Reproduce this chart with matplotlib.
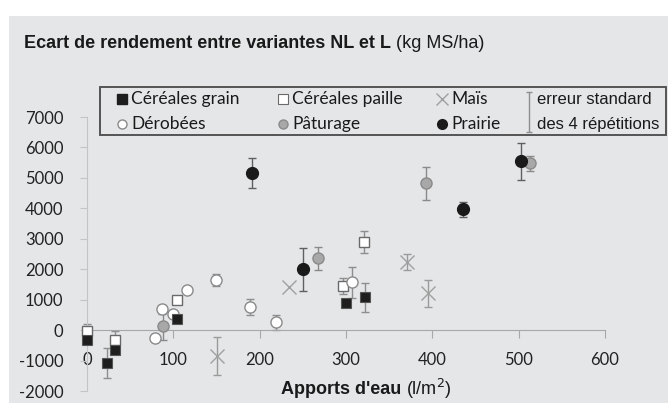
import matplotlib.pyplot as plt
from matplotlib.patches import Rectangle

plt.rcParams['axes.unicode_minus'] = False

# valeurs : apports d'eau (l/m2), écart (kg MS/ha), erreur standard
grain_x = [0, 23, 32, 104, 300, 322]
grain_y = [-330, -1080, -640, 360, 890, 1080]
grain_err = [0, 500, 0, 0, 0, 470]

paille_x = [0, 32, 104, 297, 321]
paille_y = [-40, -320, 980, 1450, 2890]
paille_err = [250, 280, 0, 250, 360]

mais_x = [151, 234, 371, 395]
mais_y = [-850, 1410, 2230, 1210]
mais_err = [610, 0, 260, 440]

derob_x = [79, 87, 100, 116, 149, 189, 219, 307]
derob_y = [-260, 690, 520, 1310, 1640, 750, 260, 1570]
derob_err = [0, 150, 0, 0, 200, 260, 250, 500]

patur_x = [88, 268, 393, 513]
patur_y = [120, 2360, 4820, 5480]
patur_err = [460, 370, 550, 250]

prairie_x = [191, 250, 436, 503]
prairie_y = [5150, 2000, 3970, 5540]
prairie_err = [490, 700, 250, 600]

x_ticks = [0, 100, 200, 300, 400, 500, 600]
y_ticks = [-2000, -1000, 0, 1000, 2000, 3000, 4000, 5000, 6000, 7000]

W, H = 668, 403
bg = '#e5e6e7'

fig = plt.figure(figsize=(W / 100, H / 100), dpi=100, facecolor='white')
fig.patches.append(Rectangle((8.5 / W, 0), 1, 1 - 16 / H, transform=fig.transFigure,
                             facecolor=bg, edgecolor='none', zorder=-10))

ax = fig.add_axes([87 / W, 1 - 391 / H, (605 - 87) / W, (391 - 117) / H])
ax.set_facecolor('none')
ax.set_xlim(0, 600)
ax.set_ylim(-2000, 7000)

for s in ['top', 'right']:
    ax.spines[s].set_visible(False)
ax.spines['left'].set_color('#c4c4c4')
ax.spines['bottom'].set_position(('data', 0))
ax.spines['bottom'].set_color('#a8a8a8')
ax.set_xticks(x_ticks)
ax.set_yticks(y_ticks)
ax.tick_params(axis='y', length=5, color='#c4c4c4', pad=12, labelsize=12, labelcolor='#222222')
ax.tick_params(axis='x', length=6, color='#a8a8a8', pad=10, labelsize=12, labelcolor='#222222')
for lab in ax.get_xticklabels() + ax.get_yticklabels():
    lab.set_family('Lato')


def err_bars(x, y, e, color):
    xs = [a for a, b in zip(x, e) if b > 0]
    ys = [a for a, b in zip(y, e) if b > 0]
    es = [b for b in e if b > 0]
    ax.errorbar(xs, ys, yerr=es, fmt='none', ecolor=color, elinewidth=1,
                capsize=3, capthick=1, zorder=2, clip_on=False)


err_bars(grain_x, grain_y, grain_err, '#8e8e8e')
err_bars(paille_x, paille_y, paille_err, '#8e8e8e')
err_bars(mais_x, mais_y, mais_err, '#9a9a9a')
err_bars(derob_x, derob_y, derob_err, '#8e8e8e')
err_bars(patur_x, patur_y, patur_err, '#8a8a8a')
err_bars(prairie_x, prairie_y, prairie_err, '#606060')

ax.plot(paille_x, paille_y, 's', ms=7.5, mfc='white', mec='#6a6a6a', mew=1, zorder=3, clip_on=False)
ax.plot(grain_x, grain_y, 's', ms=7.5, mfc='#1e1e1e', mec='#555555', mew=0.8, zorder=4, clip_on=False)
ax.plot(mais_x, mais_y, 'x', ms=10, mec='#a0a0a0', mew=1, zorder=3)
ax.plot(derob_x, derob_y, 'o', ms=8, mfc='white', mec='#8a8a8a', mew=1, zorder=3)
ax.plot(patur_x, patur_y, 'o', ms=8, mfc='#a8a8a8', mec='#8a8a8a', mew=1, zorder=3)
ax.plot(prairie_x, prairie_y, 'o', ms=8.5, mfc='#1a1a1a', mec='#1a1a1a', zorder=4)

# titre et titre d'axe (partie en gras + unité)
t = fig.text(24 / W, 1 - 43 / H, 'Ecart de rendement entre variantes NL et L ',
             family='Liberation Sans', weight='bold', fontsize=13, va='center', color='#1a1a1a')
fig.canvas.draw()
bb = t.get_window_extent()
fig.text(bb.x1 / W, 1 - 43 / H, '(kg MS/ha)', family='Liberation Sans', fontsize=13,
         va='center', color='#1a1a1a')

xl = fig.text(281 / W, 1 - 389 / H, "Apports d'eau ", family='Liberation Sans',
              weight='bold', fontsize=13, va='center', color='#1a1a1a')
fig.canvas.draw()
bb = xl.get_window_extent()
fig.text(bb.x1 / W, 1 - 389 / H, '(l/m$^2$)', family='Liberation Sans', fontsize=13,
         va='center', color='#1a1a1a')

# légende dessinée à la main, en pixels
lax = fig.add_axes([0, 0, 1, 1], zorder=5)
lax.set_xlim(0, W)
lax.set_ylim(H, 0)
lax.axis('off')
lax.add_patch(Rectangle((100, 87), 566, 48, facecolor=bg, edgecolor='#555555', lw=1.4))

r1, r2 = 99, 124
lab_kw = dict(family='Lato', fontsize=12.5, va='center', color='#1a1a1a')
lax.plot(122, r1, 's', ms=6.5, mfc='#1e1e1e', mec='#1e1e1e')
lax.text(131, r1, 'Céréales grain', **lab_kw)
lax.plot(122, r2, 'o', ms=6.5, mfc='white', mec='#8a8a8a')
lax.text(131, r2, 'Dérobées', **lab_kw)
lax.plot(283, r1, 's', ms=6.5, mfc='white', mec='#6a6a6a', mew=0.8)
lax.text(292, r1, 'Céréales paille', **lab_kw)
lax.plot(283, r2, 'o', ms=6.5, mfc='#a8a8a8', mec='#8a8a8a')
lax.text(292, r2, 'Pâturage', **lab_kw)
lax.plot(442, r1, 'x', ms=8, mec='#a0a0a0', mew=1)
lax.text(451, r1, 'Maïs', **lab_kw)
lax.plot(442, r2, 'o', ms=7, mfc='#1a1a1a', mec='#1a1a1a')
lax.text(451, r2, 'Prairie', **lab_kw)
lax.errorbar([529], [112], yerr=[[20], [20]], fmt='none', ecolor='#8e8e8e',
             elinewidth=1, capsize=2)
lax.text(537, r1, 'erreur standard', family='Liberation Sans', fontsize=12,
         va='center', color='#1a1a1a')
lax.text(537, r2, 'des 4 répétitions', family='Liberation Sans', fontsize=12,
         va='center', color='#1a1a1a')

fig.savefig('out.png', dpi=100, facecolor='white')
